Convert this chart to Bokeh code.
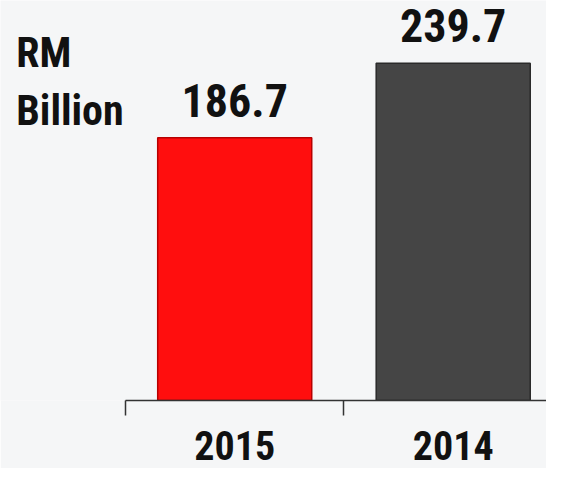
from bokeh.plotting import figure
from bokeh.models import Range1d, FixedTicker, LinearAxis, LabelSet, ColumnDataSource
from bokeh.core.properties import value
from bokeh.embed import file_html
from bokeh.resources import INLINE

# ---- data ----
years = ["2015", "2014"]
values = [186.7, 239.7]
bar_colors = ["#FF0E0E", "#454545"]
edge_colors = ["#B80000", "#2A2A2A"]
unit_lines = ["RM", "Billion"]

FONT = "Roboto Condensed, Roboto"
BG = "#F5F6F7"
INK = "#111111"

positions = [i + 1 for i in range(len(years))]
bounds = [i + 0.5 for i in range(len(years) + 1)]

src = ColumnDataSource(dict(
    x=positions, top=values, color=bar_colors, edge=edge_colors,
    label=[f"{v:.1f}" for v in values],
))

p = figure(width=546, height=468, output_backend="svg", toolbar_location=None,
           x_range=Range1d(-0.072, 2.427), y_range=Range1d(0, 284.3),
           x_axis_location=None, y_axis_location=None,
           min_border_left=0, min_border_right=0,
           min_border_top=0, min_border_bottom=68)
p.background_fill_color = BG
p.border_fill_color = BG
p.outline_line_color = None
p.xgrid.visible = False
p.ygrid.visible = False

ax = LinearAxis(ticker=FixedTicker(ticks=positions, minor_ticks=bounds),
                major_label_overrides={pos: y for pos, y in zip(positions, years)},
                bounds=(bounds[0], bounds[-1]))
ax.axis_line_color = "#333333"
ax.axis_line_width = 1.5
ax.major_tick_line_color = None
ax.major_tick_in = 0
ax.major_tick_out = 0
ax.minor_tick_in = 0
ax.minor_tick_out = 15
ax.minor_tick_line_color = "#333333"
ax.minor_tick_line_width = 1.5
ax.major_label_standoff = 15
ax.major_label_text_font = FONT
ax.major_label_text_font_style = "bold"
ax.major_label_text_font_size = "40px"
ax.major_label_text_color = INK
p.add_layout(ax, "below")

p.vbar(x="x", top="top", bottom=0, width=0.705, fill_color="color",
       line_color="edge", line_width=1.5, source=src)

p.add_layout(LabelSet(x="x", y="top", text="label", source=src,
                      text_align="center", text_baseline="alphabetic",
                      y_offset=21, text_font=value(FONT),
                      text_font_style=value("bold"),
                      text_font_size=value("46px"), text_color=value(INK)))

# unit caption, left of the axis start
unit_src = ColumnDataSource(dict(
    x=[bounds[0] - 0.5] * len(unit_lines),
    y=[247, 206],
    text=unit_lines,
))
p.text(x="x", y="y", text="text", source=unit_src, text_align="left",
       text_baseline="alphabetic", text_font=value(FONT),
       text_font_style="bold", text_font_size="42px", text_color=INK)

open("out.html", "w").write(file_html(p, INLINE))
